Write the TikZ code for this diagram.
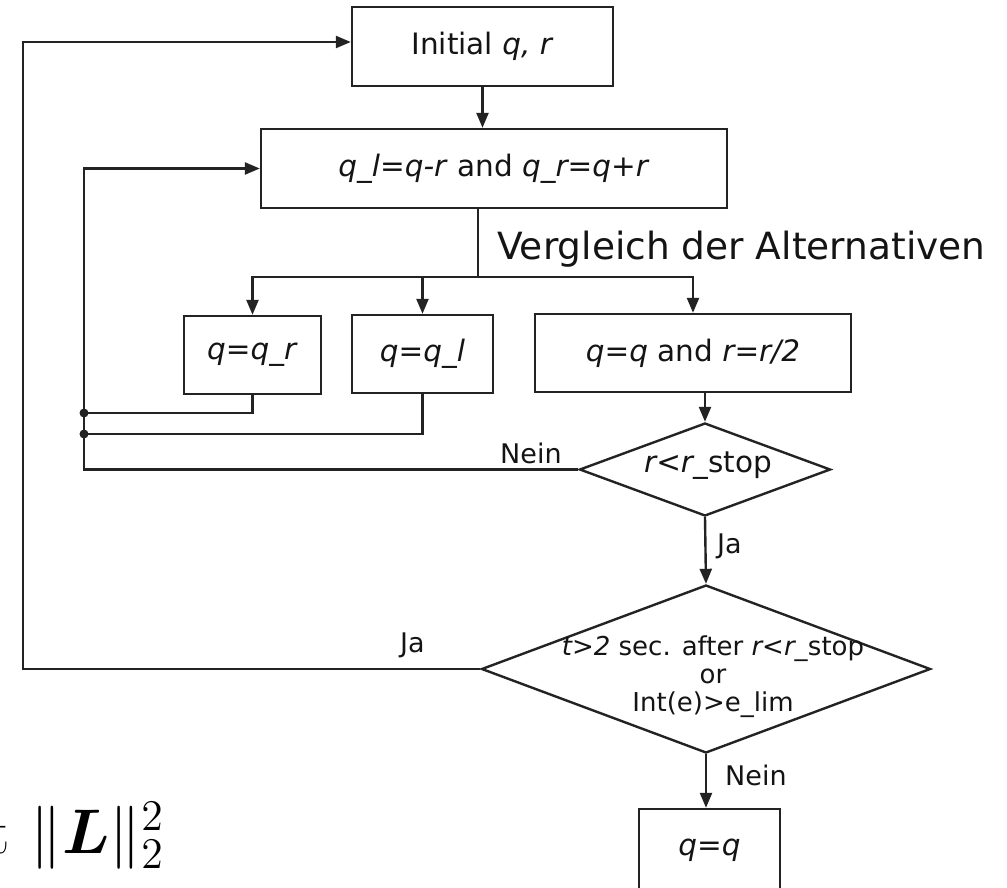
\documentclass[tikz,border=0pt]{standalone}
\usepackage{amsmath}
\usepackage[no-math]{fontspec}
\setmainfont{DejaVu Sans}[ItalicFont={DejaVu Sans Oblique}]
\usetikzlibrary{arrows.meta,shapes.geometric,calc}
\definecolor{lc}{RGB}{35,35,35}
\definecolor{tc}{RGB}{20,20,20}
\newcommand\boxfnt{\fontsize{29.5}{34}\selectfont}
\newcommand\lblfnt{\fontsize{27}{32}\selectfont}
\newcommand\bigfnt{\fontsize{37.5}{44}\selectfont}
\newcommand\dfnt{\fontsize{26}{28}\selectfont}
\newcommand\mathfnt{\fontsize{20.74}{25}\selectfont}
\begin{document}
\begin{tikzpicture}[x=1pt,y=-1pt,
  box/.style={draw=lc, line width=2.4pt, rectangle, inner sep=0pt, font=\boxfnt, text=tc},
  dia/.style={draw=lc, line width=2.4pt, diamond, inner sep=0pt, font=\boxfnt, text=tc},
  conn/.style={draw=lc, line width=2.4pt},
  arr/.style={draw=lc, line width=2.4pt, -{Triangle[length=15pt,width=12pt]}},
  lbl/.style={inner sep=0pt, font=\lblfnt, text=tc},
  dot/.style={fill=lc}]
\useasboundingbox (0,0) rectangle (1007,887);
\clip (0,0) rectangle (1007,887);

% boxes
\node[box, minimum width=261pt, minimum height=79pt] (init) at (482.5,46.5) {Initial \textit{q, r}};
\node[box, minimum width=466pt, minimum height=79pt] (calc) at (494,168.5) {\textit{q\_l=q-r} and \textit{q\_r=q+r}};
\node[box, minimum width=137pt, minimum height=78pt] (qr) at (252.5,355) {\textit{q=q\_r}};
\node[box, minimum width=141pt, minimum height=78pt] (ql) at (422.5,354) {\textit{q=q\_l}};
\node[box, minimum width=316pt, minimum height=78pt] (qq) at (693,353) {\textit{q=q} and \textit{r=r/2}};
\node[dia, minimum width=251pt, minimum height=93pt] (d1) at (705,469.5) {};
\node[inner sep=0pt, font=\boxfnt, text=tc] (d1t) at (708,466) {\textit{r<r\_}stop};
\node[dia, minimum width=449pt, minimum height=168pt] (d2) at (706,669) {};
\node[inner sep=0pt, align=center, font=\dfnt, text=tc] (d2t) at (713,677) {\textit{t>2} sec. after \textit{r<r\_}stop\\or\\Int(e)>e\_lim};
\node[box, minimum width=141pt, minimum height=82pt] (q2) at (709.5,850) {\textit{q=q}};

% labels
\node[inner sep=0pt, font=\bigfnt, text=tc, anchor=base west] (vgl) at (497,259) {Vergleich der Alternativen};
\node[lbl, anchor=base west] (nein1) at (500,463) {Nein};
\node[lbl, anchor=base west] (ja1) at (717,553) {Ja};
\node[lbl, anchor=base west] (ja2) at (400,652) {Ja};
\node[lbl, anchor=base west] (nein2) at (725,785) {Nein};

% formula fragment
\node[inner sep=0pt, font=\mathfnt, scale=3.04, anchor=base east] (tpart) at (10,853) {$\mathrm{t}$};
\node[inner sep=0pt, font=\mathfnt, scale=3.04, anchor=base west] (formula) at (30,853) {$\|\boldsymbol{L}\|_2^2$};

% coordinates
\coordinate (br) at (478,277);
\coordinate (j1) at (84,413);
\coordinate (j2) at (84,434);
\coordinate (ol) at (23,0);

% connectors
\draw[arr] (init.south) -- (init.south |- calc.north);
\draw[conn] (br |- calc.south) -- (br);
\draw[arr] (br) -| (qr.north);
\draw[arr] (br) -| (ql.north);
\draw[arr] (br) -| (qq.north);
\draw[conn] (qr.south) |- (j1);
\draw[conn] (ql.south) |- (j2);
\draw[arr] (qq.south -| d1.north) -- (d1.north);
\draw[arr] (d1.west) -- (d1.west -| j1) |- (calc.west);
\draw[arr] (d1.south) -- (d2.north);
\draw[arr] (d2.west) -- (d2.west -| ol) |- ([yshift=4.5pt]init.west);
\draw[arr] (d2.south) -- (d2.south |- q2.north);
\fill[dot] (j1) circle (4.5pt);
\fill[dot] (j2) circle (4.5pt);
\end{tikzpicture}
\end{document}
